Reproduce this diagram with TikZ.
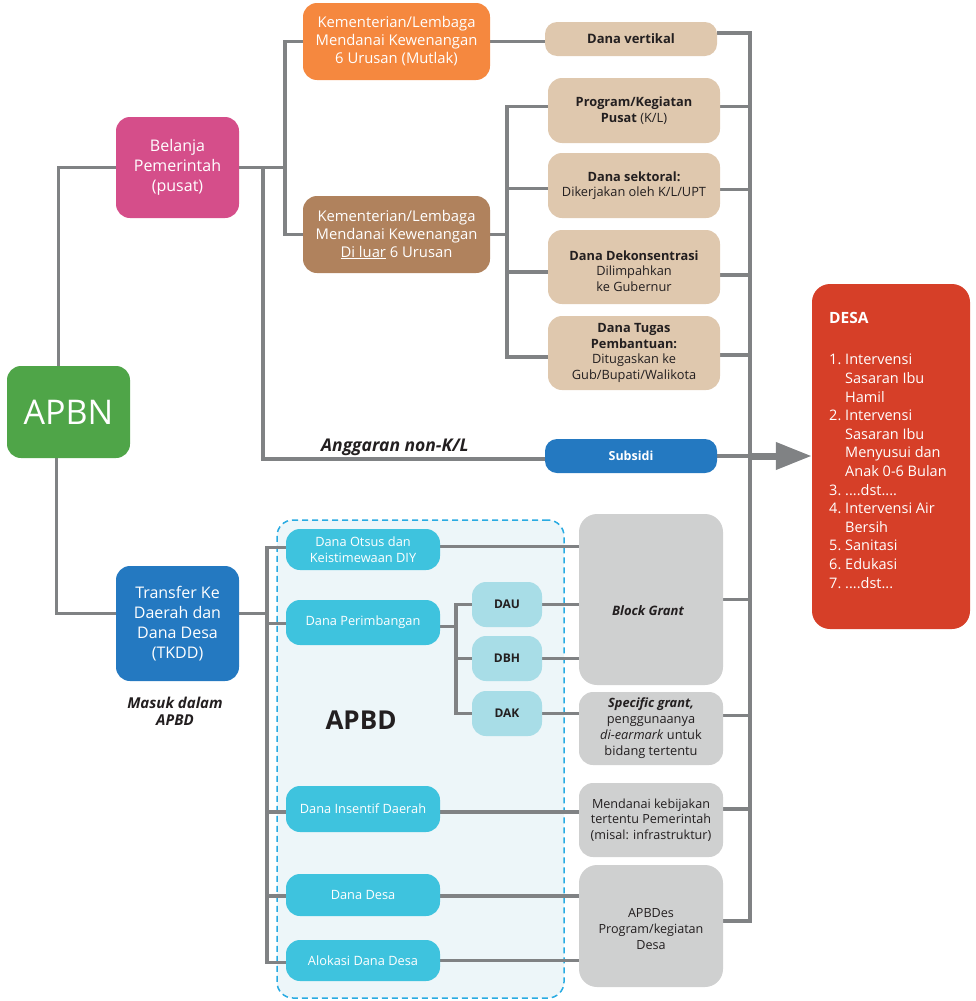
\documentclass[tikz,border=0pt]{standalone}
\usepackage{fontspec}
\setmainfont{Open Sans}
\usetikzlibrary{arrows.meta}
\pgfdeclarelayer{back}
\pgfdeclarelayer{bg}
\pgfsetlayers{back,bg,main}
\definecolor{cgreen}{HTML}{4FA548}
\definecolor{cpink}{HTML}{D54E8A}
\definecolor{cblue}{HTML}{2479C1}
\definecolor{corange}{HTML}{F5883F}
\definecolor{cbrown}{HTML}{B0825D}
\definecolor{cbeige}{HTML}{DFC8AE}
\definecolor{cred}{HTML}{D63F28}
\definecolor{ccyan}{HTML}{3EC3DE}
\definecolor{clcyan}{HTML}{A8DDE7}
\definecolor{cgrey}{HTML}{CFD0D0}
\definecolor{cline}{HTML}{808284}
\definecolor{cdash}{HTML}{29ABE2}
\definecolor{cregion}{HTML}{EDF6F9}
\definecolor{ctext}{HTML}{231F20}
\newcommand{\fsz}[2]{\fontsize{#1}{#2}\selectfont}
\begin{document}
\begin{tikzpicture}[x=1pt,y=-1pt,
  box/.style={rounded corners=14pt, align=center, inner sep=0pt},
  bigbox/.style={box, text=white, font=\fsz{16}{20}},
  klbox/.style={box, text=white, font=\fsz{14.8}{18}, minimum width=187pt, minimum height=77pt},
  beige/.style={box, fill=cbeige, text=ctext, font=\fsz{12.8}{15.5}, minimum width=172pt},
  cyanbox/.style={box, fill=ccyan, text=white, font=\fsz{12.8}{15.5}, minimum width=154pt},
  smallbox/.style={box, fill=clcyan, text=ctext, font=\bfseries\fsz{12}{15}, minimum width=70pt, minimum height=45pt},
  greybox/.style={box, fill=cgrey, text=ctext, font=\fsz{12.6}{15.5}, minimum width=144pt},
  conn/.style={draw=cline, line width=3.5pt},
  bigarrow/.style={draw=cline, fill=cline, line width=7pt, -{Triangle[length=36pt,width=26pt]}},
  region/.style={draw=cdash, fill=cregion, line width=1.5pt, dash pattern=on 6pt off 4pt, rounded corners=16pt, inner sep=0pt}
]
\useasboundingbox (0,0) rectangle (976,1001);

% region
\begin{pgfonlayer}{back}
\node[region, minimum width=287pt, minimum height=478pt] (apbdreg) at (420.5,759) {};
\end{pgfonlayer}

% main nodes
\node[box, fill=cgreen, text=white, font=\fsz{34}{40}, minimum width=123pt, minimum height=92pt] (apbn) at (68.5,412) {APBN};
\node[bigbox, fill=cpink, minimum width=123pt, minimum height=101pt] (bel) at (177.5,167.5) {Belanja\\Pemerintah\\(pusat)};
\node[bigbox, fill=cblue, minimum width=123pt, minimum height=115pt] (tkdd) at (177.5,623.5) {Transfer Ke\\Daerah dan\\Dana Desa\\(TKDD)};
\node[text=ctext, align=center, font=\bfseries\itshape\fsz{15}{17}] (masuk) at (175,711.5) {Masuk dalam\\APBD};

\node[klbox, fill=corange] (kl1) at (396.5,41.5) {Kementerian/Lembaga\\Mendanai Kewenangan\\6 Urusan (Mutlak)};
\node[klbox, fill=cbrown] (kl2) at (396.5,234.5) {Kementerian/Lembaga\\Mendanai Kewenangan\\\underline{Di luar} 6 Urusan};

\node[beige, rounded corners=12pt, minimum height=34pt, font=\bfseries\fsz{13}{15}] (dv) at (631,39) {Dana vertikal};
\node[beige, minimum height=65pt] (pk) at (634,110.5) {\textbf{Program/Kegiatan}\\\textbf{Pusat} (K/L)};
\node[beige, minimum height=65pt] (ds) at (634,185.5) {\textbf{Dana sektoral:}\\Dikerjakan oleh K/L/UPT};
\node[beige, minimum height=74pt] (dk) at (634,267) {};
\node[text=ctext, align=center, font=\fsz{12.8}{15.5}, inner sep=0pt] (dktxt) at (634,271) {\textbf{Dana Dekonsentrasi}\\Dilimpahkan\\ke Gubernur};
\node[beige, minimum height=74pt] (tp) at (634,353) {\textbf{Dana Tugas}\\\textbf{Pembantuan:}\\Ditugaskan ke\\Gub/Bupati/Walikota};

\node[box, rounded corners=12pt, fill=cblue, text=white, font=\bfseries\fsz{12.5}{15}, minimum width=172pt, minimum height=34pt] (sub) at (631,456) {Subsidi};
\node[text=ctext, font=\bfseries\itshape\fsz{17.5}{20}] (ang) at (395,447) {Anggaran non-K/L};

% DESA
\node[box, rounded corners=18pt, fill=cred, minimum width=158pt, minimum height=345pt] (desa) at (891,456.5) {};
\node[anchor=west, inner sep=0pt, text=white, font=\bfseries\fsz{15.5}{18}] (desat) at (829,318) {DESA};
\node[anchor=north west, inner sep=0pt, align=left, text=white, font=\fsz{14.5}{18.6}] (desal) at (829,354) {%
\makebox[16pt][l]{1.}Intervensi\\\hspace*{16pt}Sasaran Ibu\\\hspace*{16pt}Hamil\\
\makebox[16pt][l]{2.}Intervensi\\\hspace*{16pt}Sasaran Ibu\\\hspace*{16pt}Menyusui dan\\\hspace*{16pt}Anak 0-6 Bulan\\
\makebox[16pt][l]{3.}....dst....\\
\makebox[16pt][l]{4.}Intervensi Air\\\hspace*{16pt}Bersih\\
\makebox[16pt][l]{5.}Sanitasi\\
\makebox[16pt][l]{6.}Edukasi\\
\makebox[16pt][l]{7.}....dst...};

% APBD region content
\node[cyanbox, minimum height=41pt] (ots) at (363,549.5) {Dana Otsus dan\\Keistimewaan DIY};
\node[cyanbox, minimum height=45pt] (per) at (363,622.5) {Dana Perimbangan};
\node[cyanbox, minimum height=46pt] (ins) at (363,809) {Dana Insentif Daerah};
\node[cyanbox, minimum height=42pt] (dd) at (363,895) {Dana Desa};
\node[cyanbox, minimum height=41pt] (ad) at (363,960.5) {Alokasi Dana Desa};
\node[smallbox] (dau) at (507,604.5) {DAU};
\node[smallbox] (dbh) at (507,658.5) {DBH};
\node[smallbox] (dak) at (507,713.5) {DAK};
\node[text=ctext, font=\bfseries\fsz{26}{30}] (apbdlbl) at (361,720) {APBD};

\node[greybox, rounded corners=18pt, minimum height=171pt] (bgr) at (651,599.5) {};
\node[text=ctext, font=\bfseries\itshape\fsz{13}{16}] (bgrtxt) at (648,611) {Block Grant};
\node[greybox, minimum height=73pt, font=\fsz{12.8}{16}] (sg) at (651,728.5) {\textbf{\textit{Specific grant,}}\\penggunaanya\\\textit{di-earmark} untuk\\bidang tertentu};
\node[greybox, minimum height=74pt] (mk) at (651,820) {Mendanai kebijakan\\tertentu Pemerintah\\(misal: infrastruktur)};
\node[greybox, rounded corners=18pt, minimum height=122pt] (apbdes) at (651,926) {};
\node[text=ctext, align=center, font=\fsz{12.6}{16}, inner sep=0pt] (apbdestxt) at (651,929) {APBDes\\Program/kegiatan\\Desa};

% junction coordinates
\coordinate (vb) at (285,0);
\coordinate (vs) at (263,0);
\coordinate (vk) at (507,0);
\coordinate (bus) at (750,0);
\coordinate (vt) at (267,0);
\coordinate (vp) at (456,0);
% shifted attachment points
\coordinate (tkddw) at ([yshift=10pt]tkdd.west);
\coordinate (tkdde) at ([yshift=10pt]tkdd.east);
\coordinate (subw) at ([yshift=-3pt]sub.west);
\coordinate (pkw) at ([yshift=4pt]pk.west);
\coordinate (tpw) at ([yshift=-4pt]tp.west);
\coordinate (dsw) at ([yshift=-3pt]ds.west);
\coordinate (dkw) at ([yshift=-5pt]dk.west);
\coordinate (dve) at ([yshift=6pt]dv.east);
\coordinate (apbdese) at ([yshift=5pt]apbdes.east);
\coordinate (pke) at ([yshift=4pt]pk.east);
\coordinate (dse) at ([yshift=-4pt]ds.east);
\coordinate (dke) at ([yshift=-8pt]dk.east);
\coordinate (tpe) at ([yshift=-2pt]tp.east);
\coordinate (sge) at ([yshift=13pt]sg.east);
\coordinate (mke) at ([yshift=11pt]mk.east);
\coordinate (otsw) at ([yshift=2pt]ots.west);
\coordinate (adw) at ([yshift=-2pt]ad.west);
\coordinate (perw) at ([yshift=-1pt]per.west);
\coordinate (insw) at ([yshift=-3pt]ins.west);
\coordinate (ddw) at ([yshift=-1pt]dd.west);
\coordinate (otse) at ([yshift=3pt]ots.east);
\coordinate (pere) at ([yshift=-4pt]per.east);
\coordinate (inse) at ([yshift=-3pt]ins.east);
\coordinate (dde) at ([yshift=-1pt]dd.east);

\begin{pgfonlayer}{bg}
\draw[conn] ([xshift=-10pt]apbn.north) |- (bel.west);
\draw[conn] ([xshift=-12pt]apbn.south) |- (tkddw);
% belanja
\draw[conn] (bel.east) -- (bel.east -| vb);
\draw[conn] (kl1.west) -| (vb |- kl2.west) -- (kl2.west);
\draw[conn] (bel.east -| vs) |- (subw);
\draw[conn] (kl1.east) -- (kl1.east -| dv.west);
% K/L 2
\draw[conn] (kl2.east) -- (kl2.east -| vk);
\draw[conn] (pkw) -| (vk |- tpw) -- (tpw);
\draw[conn] (dsw) -- (dsw -| vk);
\draw[conn] (dkw) -- (dkw -| vk);
% bus
\draw[conn] (dve) -| (bus |- apbdese) -- (apbdese);
\draw[conn] (pke) -- (pke -| bus);
\draw[conn] (dse) -- (dse -| bus);
\draw[conn] (dke) -- (dke -| bus);
\draw[conn] (tpe) -- (tpe -| bus);
\draw[conn] (sub.east) -- (sub.east -| bus);
\draw[conn] (bgr.east) -- (bgr.east -| bus);
\draw[conn] (sge) -- (sge -| bus);
\draw[conn] (mke) -- (mke -| bus);
% TKDD
\draw[conn] (tkdde) -- (tkdde -| vt);
\draw[conn] (otsw) -| (vt |- adw) -- (adw);
\draw[conn] (perw) -- (perw -| vt);
\draw[conn] (insw) -- (insw -| vt);
\draw[conn] (ddw) -- (ddw -| vt);
\draw[conn] (otse) -- (otse -| bgr.west);
\draw[conn] (pere) -- (pere -| vp);
\draw[conn] (dau.west) -| (vp |- dak.west) -- (dak.west);
\draw[conn] (dbh.west) -- (dbh.west -| vp);
\draw[conn] (dau.east) -- (dau.east -| bgr.west);
\draw[conn] (dbh.east) -- (dbh.east -| bgr.west);
\draw[conn] (dak.east) -- (dak.east -| sg.west);
\draw[conn] (inse) -- (inse -| mk.west);
\draw[conn] (dde) -- (dde -| apbdes.west);
\draw[conn] (ad.east) -- (ad.east -| apbdes.west);
\end{pgfonlayer}
\draw[bigarrow] (sub.east -| bus) -- (desa.west |- sub.east);
\end{tikzpicture}
\end{document}
